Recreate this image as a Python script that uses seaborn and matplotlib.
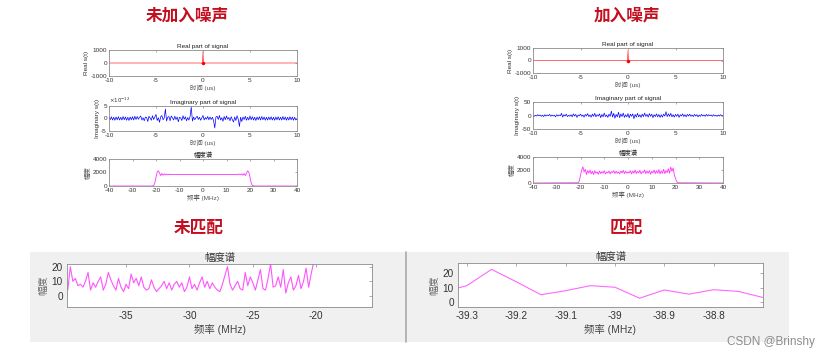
import numpy as np
import pandas as pd
import matplotlib
matplotlib.use("Agg")
import matplotlib.pyplot as plt
from matplotlib.patches import Rectangle
from matplotlib.lines import Line2D
import seaborn as sns

sns.set_style("white")
plt.rcParams['font.family'] = ['Liberation Sans', 'Noto Sans CJK SC', 'DejaVu Sans']
plt.rcParams['axes.unicode_minus'] = False

# ---------------- data ----------------
panel_titles = ["未加入噪声", "加入噪声", "未匹配", "匹配"]

# Real part (both cases): flat zero with a spike at t=0
real_t = [-10, -0.3, -0.15, -0.05, 0, 0.05, 0.15, 0.3, 10]
real_clean = [0, 0, -30, 60, 870, 60, -30, 0, 0]
real_noisy = [0, 0, -40, 50, 790, 50, -40, 0, 0]

# Imaginary part without noise (x1e-12), t = -10..10 step 0.125
imag_clean = [
    0.6, -0.5, 0.7, -0.6, 0.5, -0.7, 0.6, -0.5,
    0.7, -0.6, 0.5, -0.6, 0.8, -0.5, 0.6, -0.7,
    0.5, -0.8, 0.6, -0.5, 0.7, -0.6, 0.9, -0.4,
    0.8, -0.3, 0.5, 1.0, -0.6, 0.3, -0.9, 0.6,
    0.4, -1.2, 0.9, 0.2, -0.7, 1.1, -0.4, 0.6,
    1.6, -0.8, 0.3, -1.5, 0.7, 1.2, -0.5, 0.2,
    3.8, -1.0, 0.5, 0.8, -0.9, 1.0, 0.3, -0.6,
    0.9, -0.4, 0.6, -1.3, 0.5, 0.2, -0.8, 1.1,
    -0.3, 0.7, -0.9, 0.4, -0.6, 0.8, 4.5, -1.0,
    0.6, -0.5, 0.3, 0.9, -0.4, 0.5, -0.7, 0.3,
    1.2, -0.6, 0.4, -0.3, 0.8, -0.5, 0.6, -0.4,
    0.5, -0.8, -3.8, 0.6, 0.9, -0.4, 1.2, -0.6,
    0.3, -1.1, 0.8, -0.5, 1.0, -0.3, 0.4, -0.9,
    0.7, -0.5, -1.4, 0.6, -0.8, 1.1, -0.3, -3.2,
    0.5, -1.2, 0.6, -0.4, 0.9, -0.7, 0.5, -0.6,
    1.0, -0.5, 0.7, -0.6, 0.5, -0.8, 0.6, -0.5,
    0.7, -0.6, 0.8, -0.5, 0.6, -0.7, 0.5, -0.6,
    0.6, -0.5, 0.7, -0.6, 0.5, -0.7, 0.6, -0.5,
    0.7, -0.6, 0.5, -0.6, 0.8, -0.5, 0.6, -0.7,
    0.5, -0.6, 0.7, -0.5, 0.6, -0.7, 0.5, -0.6, 0.0,
]
# Imaginary part with noise, t = -10..10 step 0.125
imag_noisy = [
    2, -3, 1, -2, 3, -1, 2, -3,
    1, -4, 3, -2, 2, -1, 4, -3,
    2, -2, 1, -5, 3, -2, 2, -1,
    8, -6, 3, -2, 5, -4, 1, -3,
    3, -5, 6, -2, 4, -7, 2, -1,
    5, -3, 2, -6, 4, -2, 7, -4,
    2, -6, 5, -3, 8, -5, 3, -2,
    6, -8, 4, -5, 9, -4, 2, -7,
    5, -3, 16, -6, 8, -10, 4, -5,
    12, -8, 6, -4, 9, -7, 3, -5,
    7, -9, 5, -3, 6, -12, 4, -6,
    8, -5, 3, -7, 5, -4, 9, -3,
    4, -6, 7, -3, 5, -8, 3, -4,
    6, -5, 4, -7, 3, -6, 5, -2,
    14, -4, 6, -3, 8, -5, 3, -6,
    4, -3, 5, -7, 3, -2, 6, -4,
    3, -5, 4, -2, 5, -3, 2, -4,
    4, -2, 3, -5, 2, -3, 4, -2,
    2, -3, 4, -2, 3, -1, 2, -3,
    3, -2, 1, -3, 2, -2, 3, -1, 0,
]

# Magnitude spectrum without noise
spec_clean_f = [-40, -22, -21, -20.5, -20, -19.5, -19, -18.5, -18, -17.5, -17, -16.5,
                -16, -15.5, -15, -14.5, -14, -13, -12, 0, 12, 13, 14, 14.5, 15, 15.5,
                16, 16.5, 17, 17.5, 18, 18.5, 19, 19.5, 20, 20.5, 21, 22, 40]
spec_clean_v = [0, 0, 60, 450, 1300, 2050, 2250, 1900, 1550, 1850, 1600, 1800,
                1650, 1780, 1660, 1760, 1680, 1720, 1700, 1700, 1700, 1720, 1680, 1760, 1660, 1780,
                1650, 1800, 1600, 1850, 1550, 1900, 2250, 2050, 1300, 450, 60, 0, 0]

# Magnitude spectrum with noise (-20..20 step 0.5, plus band edges)
spec_noisy_band = [
    1200, 2000, 2500, 1700, 2100, 1300, 1900, 1500, 2000, 1400,
    1800, 1300, 1900, 1500, 1700, 1350, 1850, 1450, 1750, 1500,
    1900, 1400, 1700, 1550, 1850, 1400, 1750, 1600, 1900, 1450,
    1800, 1500, 1700, 1400, 1850, 1550, 1950, 1450, 1800, 1500,
    1700, 1550, 1900, 1400, 1850, 1500, 2000, 1450, 1800, 1550,
    1950, 1400, 1750, 1600, 2000, 1450, 1850, 1500, 1900, 1350,
    1800, 1550, 2000, 1450, 1900, 1500, 2050, 1400, 1850, 1500,
    2100, 1450, 1900, 1600, 2200, 1500, 2450, 1800, 2300, 1300, 700,
]
spec_noisy_edge_f = [-40, -21, -20.5, 20.5, 21, 40]
spec_noisy_edge_v = [0, 40, 300, 200, 30, 0]

# Zoomed spectrum, unmatched (-39.6..-20 step 0.2)
zoom_unmatched = [
    4, 20, 10, 12, 7, 8, 6, 10, 16, 4,
    9, 6, 10, 13, 4, 8, 16, 11, 7, 4,
    12, 6, 3, 8, 5, 15, 9, 12, 7, 13,
    6, 4, 5, 11, 6, 3, 5, 7, 10, 5,
    9, 4, 8, 10, 6, 9, 3, 6, 13, 5,
    8, 4, 9, 13, 6, 10, 5, 9, 6, 4,
    3, 8, 14, 20, 8, 4, 7, 10, 5, 4,
    16, 7, 13, 9, 4, 11, 18, 5, 4, 12,
    22, 6, 7, 13, 6, 18, 2, 9, 13, 4,
    7, 14, 5, 10, 19, 6, 15, 23, 22,
]
# Zoomed spectrum, matched
zoom_matched_f = [-39.35, -39.30, -39.25, -39.20, -39.15, -39.10, -39.05, -39.00,
                  -38.95, -38.90, -38.85, -38.80, -38.75, -38.70]
zoom_matched_v = [7, 11.5, 22.8, 14.2, 5.2, 8.0, 11.5, 10.4, 2.8, 8.5, 5.6, 8.7, 7.5, 3.3]

matched_ticks = [-39.3, -39.2, -39.1, -39.0, -38.9, -38.8]
matched_ticklabels = ["-39.3", "-39.2", "-39.1", "-39", "-38.9", "-38.8"]

# ---------------- figure ----------------
W, H = 831, 358
fig = plt.figure(figsize=(W / 100, H / 100), dpi=100)
fig.patch.set_facecolor("white")


def px_axes(x0, y0, x1, y1):
    ax = fig.add_axes([x0 / W, 1 - y1 / H, (x1 - x0) / W, (y1 - y0) / H])
    ax.set_zorder(2)
    return ax


def style(ax, fs, tl=1.5):
    ax.set_facecolor("white")
    for s in ax.spines.values():
        s.set_color("#8a8a8a")
        s.set_linewidth(0.6)
    ax.tick_params(direction="in", length=tl, width=0.5, colors="#8a8a8a",
                   labelcolor="#333333", labelsize=fs, pad=1.5,
                   top=True, right=True)


# gray backgrounds of bottom screenshots
fig.patches.append(Rectangle((30 / W, 1 - 342 / H), (406 - 30) / W, 90 / H,
                             transform=fig.transFigure, facecolor="#f0f0f0",
                             edgecolor="none", zorder=-5))
fig.patches.append(Rectangle((407 / W, 1 - 342 / H), (789 - 407) / W, 90 / H,
                             transform=fig.transFigure, facecolor="#f0f0f0",
                             edgecolor="none", zorder=-5))
fig.lines.append(Line2D([406 / W, 406 / W], [1 - 252 / H, 1 - 342 / H],
                        transform=fig.transFigure, color="#a8a8a8", linewidth=1.2,
                        zorder=-4))

red = "#c40d1e"
for txt, xx, yy in [(panel_titles[0], 187, 15), (panel_titles[1], 627, 15),
                    (panel_titles[2], 199, 228), (panel_titles[3], 626, 228)]:
    fig.text(xx / W, 1 - yy / H, txt, color=red, fontsize=12, fontweight="bold",
             ha="center", va="center", family=["Noto Sans CJK SC"])

fs_top = 4.6
t_grid = np.linspace(-10, 10, len(imag_clean))


def top_group(x0, x1, ys, real_v, imag_v, imag_lim, imag_ticks, sci, spec_parts):
    # real
    ax = px_axes(x0, ys[0][0], x1, ys[0][1])
    sns.lineplot(x=real_t, y=real_v, ax=ax, color="#ff3030", linewidth=0.5)
    ax.plot([0], [0], marker="o", color="#ff0000", markersize=1.5)
    ax.set_xlim(-10, 10)
    ax.set_ylim(-1000, 1000)
    ax.set_xticks([-10, -5, 0, 5, 10])
    ax.set_yticks([-1000, 0, 1000])
    style(ax, fs_top)
    ax.set_title("Real part of signal", fontsize=fs_top, pad=1.5, color="#222222")
    ax.set_ylabel("Real s(t)", fontsize=fs_top, labelpad=1, color="#333333")
    ax.set_xlabel("时间 (us)", fontsize=fs_top, labelpad=1, color="#555555")
    # imag
    ax = px_axes(x0, ys[1][0], x1, ys[1][1])
    sns.lineplot(x=t_grid, y=imag_v, ax=ax, color="#0000ff", linewidth=0.5)
    ax.set_xlim(-10, 10)
    ax.set_ylim(*imag_lim)
    ax.set_xticks([-10, -5, 0, 5, 10])
    ax.set_yticks(imag_ticks)
    style(ax, fs_top)
    ax.set_title("Imaginary part of signal", fontsize=fs_top, pad=1.5, color="#222222")
    ax.set_ylabel("Imaginary s(t)", fontsize=fs_top, labelpad=1, color="#333333")
    ax.set_xlabel("时间 (us)", fontsize=fs_top, labelpad=1, color="#555555")
    if sci:
        ax.text(0.0, 1.03, r"$\times10^{-12}$", transform=ax.transAxes, fontsize=4,
                color="#333333", va="bottom", ha="left")
    # spectrum
    ax = px_axes(x0, ys[2][0], x1, ys[2][1])
    for fx, fv in spec_parts:
        sns.lineplot(x=fx, y=fv, ax=ax, color="#ff33ff", linewidth=0.6)
    ax.set_xlim(-40, 40)
    ax.set_ylim(0, 4000)
    ax.set_xticks([-40, -30, -20, -10, 0, 10, 20, 30, 40])
    ax.set_yticks([0, 2000, 4000])
    style(ax, fs_top)
    ax.set_title("幅度谱", fontsize=fs_top, pad=1.5, color="#222222")
    ax.set_ylabel("幅度", fontsize=fs_top, labelpad=1, color="#555555")
    ax.set_xlabel("频率 (MHz)", fontsize=fs_top, labelpad=1, color="#555555")


top_group(109, 297, [(50, 76), (106, 131), (159, 186)], real_clean, imag_clean,
          (-5, 5), [-5, 0, 5], True, [(spec_clean_f, spec_clean_v)])

band_f = np.linspace(-20, 20, len(spec_noisy_band))
noisy_f = spec_noisy_edge_f[:3] + list(band_f) + spec_noisy_edge_f[3:]
noisy_v = spec_noisy_edge_v[:3] + list(spec_noisy_band) + spec_noisy_edge_v[3:]
top_group(533, 723, [(48, 73), (102, 129), (157, 183)], real_noisy, imag_noisy,
          (-50, 50), [-50, 0, 50], False, [(noisy_f, noisy_v)])

# ---------------- bottom panels ----------------
fs_b = 7.2
ax = px_axes(67, 264, 372, 307)
zf = np.linspace(-39.6, -20.0, len(zoom_unmatched))
sns.lineplot(x=zf, y=zoom_unmatched, ax=ax, color="#ff55ff", linewidth=0.8)
ax.set_xlim(-39.66, -15.6)
ax.set_ylim(-7.5, 21.8)
ax.set_xticks([-35, -30, -25, -20])
ax.set_yticks([0, 10, 20])
style(ax, fs_b, tl=2)
ax.tick_params(pad=3)
ax.set_title("幅度谱", fontsize=7.5, pad=2, color="#333333")
ax.set_ylabel("幅度", fontsize=7, labelpad=2, color="#666666")
ax.set_xlabel("频率 (MHz)", fontsize=7.5, labelpad=2, color="#444444")

ax = px_axes(458, 263, 763, 307)
sns.lineplot(x=zoom_matched_f, y=zoom_matched_v, ax=ax, color="#ff66ff", linewidth=0.8)
ax.set_xlim(-39.318, -38.70)
ax.set_ylim(-3.3, 27.2)
ax.set_xticks(matched_ticks)
ax.set_xticklabels(matched_ticklabels)
ax.set_yticks([0, 10, 20])
style(ax, fs_b, tl=2)
ax.tick_params(pad=3)
ax.set_title("幅度谱", fontsize=7.5, pad=2, color="#333333")
ax.set_ylabel("幅度", fontsize=7, labelpad=2, color="#666666")
ax.set_xlabel("频率 (MHz)", fontsize=7.5, labelpad=2, color="#444444")

fig.text(727 / W, 1 - 342 / H, "CSDN @Brinshy", fontsize=8.5, color="#8c8c8c",
         ha="left", va="center", zorder=5)

fig.savefig("out.png", dpi=100)
